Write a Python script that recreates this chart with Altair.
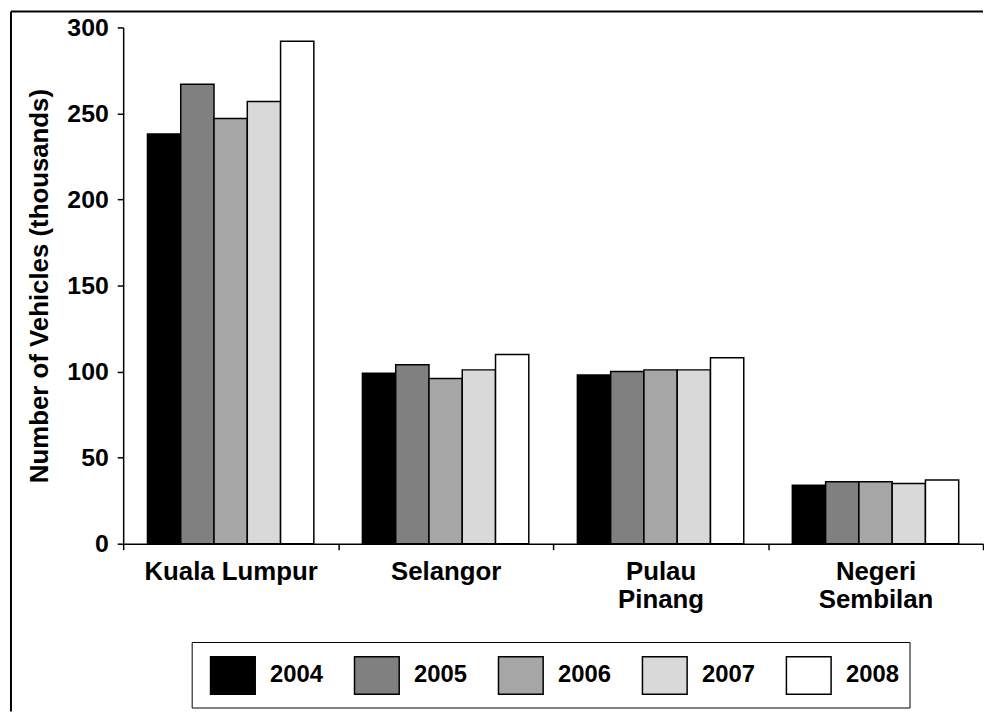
import altair as alt
import pandas as pd

states = ["Kuala Lumpur", "Selangor", "Pulau Pinang", "Negeri Sembilan"]
years = ["2004", "2005", "2006", "2007", "2008"]
v2004 = [238, 99, 98, 34]
v2005 = [267, 104, 100, 36]
v2006 = [247, 96, 101, 36]
v2007 = [257, 101, 101, 35]
v2008 = [292, 110, 108, 37]
colors = ["#000000", "#808080", "#a6a6a6", "#d9d9d9", "#ffffff"]
y_ticks = [0, 50, 100, 150, 200, 250, 300]

rows = []
for yr, vals in zip(years, [v2004, v2005, v2006, v2007, v2008]):
    for s, v in zip(states, vals):
        rows.append({"State": s, "Year": yr, "Vehicles": v})
df = pd.DataFrame(rows)

FONT = "Liberation Sans"
W, H = 866, 520

bars = alt.Chart(df).mark_bar(stroke="black", strokeWidth=1.5).encode(
    x=alt.X(
        "State:N", sort=states,
        scale=alt.Scale(paddingInner=0, paddingOuter=0),
        axis=alt.Axis(
            title=None, labelAngle=0, tickBand="extent",
            labelExpr="indexof(['Pulau Pinang','Negeri Sembilan'], datum.label) >= 0 ? split(datum.label, ' ') : datum.label",
            labelLineHeight=28, labelPadding=9, labelFontSize=26, labelFont=FONT,
            labelFontWeight="bold", labelColor="black",
            domainColor="black", domainWidth=1.5, tickColor="black", tickWidth=1.5, tickSize=6,
        ),
    ),
    xOffset=alt.XOffset("Year:N", sort=years, scale=alt.Scale(paddingInner=0, paddingOuter=0.73)),
    y=alt.Y(
        "Vehicles:Q",
        scale=alt.Scale(domain=[0, 300], nice=False),
        axis=alt.Axis(
            values=y_ticks, title="Number of Vehicles (thousands)", grid=False,
            labelFontSize=25, labelFont=FONT, labelFontWeight="bold", labelColor="black",
            labelPadding=9, tickSize=6, tickColor="black", tickWidth=1.5,
            domainColor="black", domainWidth=1.5,
            titleFont=FONT, titleFontSize=26, titleFontWeight="bold", titleColor="black",
            titleX=-84, titleY=H / 2, titleAlign="center", titleBaseline="middle",
        ),
    ),
    color=alt.Color(
        "Year:N", sort=years,
        scale=alt.Scale(domain=years, range=colors),
        legend=alt.Legend(
            title=None, orient="none", legendX=69, legendY=619, direction="horizontal",
            columns=5, strokeColor="black", padding=10,
            symbolType="M-1,-0.84H1V0.84H-1Z", symbolSize=2025,
            symbolStrokeColor="black", symbolStrokeWidth=1.5, symbolOffset=8,
            labelOffset=14, columnPadding=22,
            labelFont=FONT, labelFontSize=24, labelFontWeight="bold", labelColor="black",
            labelBaseline="middle",
        ),
    ),
)

frame_df = pd.DataFrame({"k": [0]})
frame_left = alt.Chart(frame_df).mark_rule(color="black", strokeWidth=2).encode(
    x=alt.value(-113), y=alt.value(-16), y2=alt.value(689)
)
frame_top = alt.Chart(frame_df).mark_rule(color="black", strokeWidth=2).encode(
    x=alt.value(-113), x2=alt.value(W), y=alt.value(-16)
)

chart = alt.layer(bars, frame_left, frame_top).properties(
    width=W, height=H,
    padding={"left": 2, "top": 0, "right": 0, "bottom": 0},
    background="white",
).configure_view(stroke=None)

chart.save("out.html", embed_options={"renderer": "svg", "actions": False})
